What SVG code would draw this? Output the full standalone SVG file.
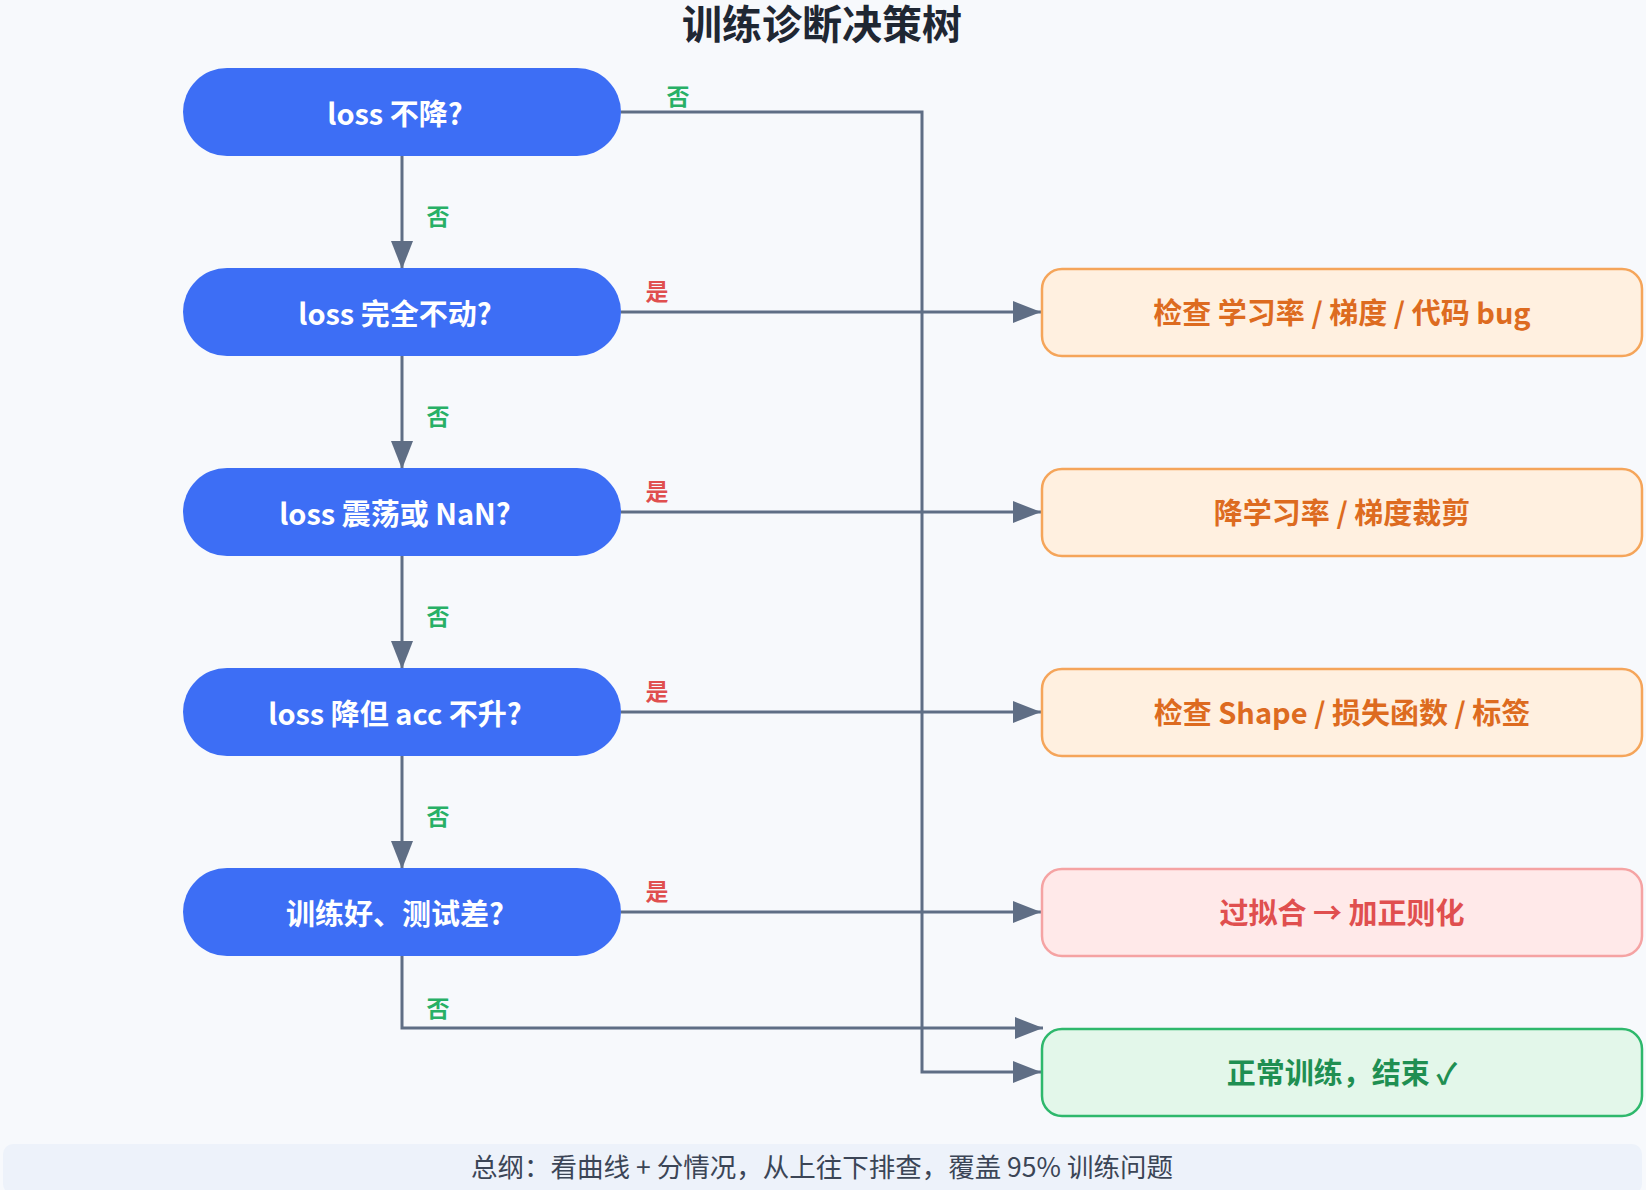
<svg xmlns="http://www.w3.org/2000/svg" width="1646" height="1190" viewBox="0 0 1646 1190">
<style>
.bg{fill:#f7f9fc}
.dec{fill:#3d6ef5}
.dt{font-family:"Noto Sans CJK SC","Noto Sans",sans-serif;font-weight:700;font-size:29px;fill:#ffffff;text-anchor:middle}
.res{stroke-width:2.5}
.rt{font-family:"Noto Sans CJK SC","Noto Sans",sans-serif;font-weight:700;font-size:29px;text-anchor:middle}
.or{fill:#fff0e0;stroke:#f5a55a}
.ort{fill:#dd6b20}
.rd{fill:#ffe9e9;stroke:#f5a3a3}
.rdt{fill:#e04f4f}
.gr{fill:#e3f7ea;stroke:#2eb86c}
.grt{fill:#1f8f52}
.conn{fill:none;stroke:#5f6e85;stroke-width:3}
.lbl{font-family:"Noto Sans CJK SC","Noto Sans",sans-serif;font-weight:700;font-size:23px;text-anchor:middle}
.no{fill:#27b066}
.yes{fill:#e04f4f}
.title{font-family:"Noto Sans CJK SC","Noto Sans",sans-serif;font-weight:700;font-size:40px;fill:#1f2733;text-anchor:middle}
.foot{font-family:"Noto Sans CJK SC","Noto Sans",sans-serif;font-size:26.5px;fill:#3b4556;text-anchor:middle}
</style>
<defs>
<marker id="arr" markerUnits="userSpaceOnUse" markerWidth="28" markerHeight="22" refX="28" refY="11" orient="auto">
<path d="M0,0 L28,11 L0,22 z" fill="#5f6e85"/>
</marker>
</defs>
<rect class="bg" x="0" y="0" width="1646" height="1190"/>
<text class="title" x="822" y="39">训练诊断决策树</text>

<g id="connectors">
<path class="conn" d="M402,156 V269" marker-end="url(#arr)"/>
<path class="conn" d="M402,356 V469" marker-end="url(#arr)"/>
<path class="conn" d="M402,556 V669" marker-end="url(#arr)"/>
<path class="conn" d="M402,756 V869" marker-end="url(#arr)"/>
<path class="conn" d="M621,112 H922 V1072 H1041" marker-end="url(#arr)"/>
<path class="conn" d="M621,312 H1041" marker-end="url(#arr)"/>
<path class="conn" d="M621,512 H1041" marker-end="url(#arr)"/>
<path class="conn" d="M621,712 H1041" marker-end="url(#arr)"/>
<path class="conn" d="M621,912 H1041" marker-end="url(#arr)"/>
<path class="conn" d="M402,956 V1028 H1043" marker-end="url(#arr)"/>
<text class="lbl no" x="678" y="105">否</text>
<text class="lbl no" x="438" y="225">否</text>
<text class="lbl no" x="438" y="425">否</text>
<text class="lbl no" x="438" y="625">否</text>
<text class="lbl no" x="438" y="825">否</text>
<text class="lbl no" x="438" y="1017">否</text>
<text class="lbl yes" x="657" y="300">是</text>
<text class="lbl yes" x="657" y="500">是</text>
<text class="lbl yes" x="657" y="700">是</text>
<text class="lbl yes" x="657" y="900">是</text>
</g>

<g id="d1"><rect class="dec" x="183" y="68" width="438" height="88" rx="44"/><text class="dt" x="395" y="125">loss 不降?</text></g>
<g id="d2"><rect class="dec" x="183" y="268" width="438" height="88" rx="44"/><text class="dt" x="395" y="325">loss 完全不动?</text></g>
<g id="d3"><rect class="dec" x="183" y="468" width="438" height="88" rx="44"/><text class="dt" x="395" y="525">loss 震荡或 NaN?</text></g>
<g id="d4"><rect class="dec" x="183" y="668" width="438" height="88" rx="44"/><text class="dt" x="395" y="725">loss 降但 acc 不升?</text></g>
<g id="d5"><rect class="dec" x="183" y="868" width="438" height="88" rx="44"/><text class="dt" x="395" y="925">训练好、测试差?</text></g>

<g id="r1"><rect class="res or" x="1042" y="269" width="600" height="87" rx="20"/><text class="rt ort" x="1342" y="324">检查 学习率 / 梯度 / 代码 bug</text></g>
<g id="r2"><rect class="res or" x="1042" y="469" width="600" height="87" rx="20"/><text class="rt ort" x="1342" y="524">降学习率 / 梯度裁剪</text></g>
<g id="r3"><rect class="res or" x="1042" y="669" width="600" height="87" rx="20"/><text class="rt ort" x="1342" y="724">检查 Shape / 损失函数 / 标签</text></g>
<g id="r4"><rect class="res rd" x="1042" y="869" width="600" height="87" rx="20"/><text class="rt rdt" x="1342" y="924">过拟合 → 加正则化</text></g>
<g id="r5"><rect class="res gr" x="1042" y="1029" width="600" height="87" rx="20"/><text class="rt grt" x="1342" y="1084">正常训练，结束 ✓</text></g>

<g id="footer"><rect x="3" y="1144" width="1639" height="50" rx="10" fill="#edf2fa"/><text class="foot" x="822" y="1177">总纲：看曲线 + 分情况，从上往下排查，覆盖 95% 训练问题</text></g>
</svg>
